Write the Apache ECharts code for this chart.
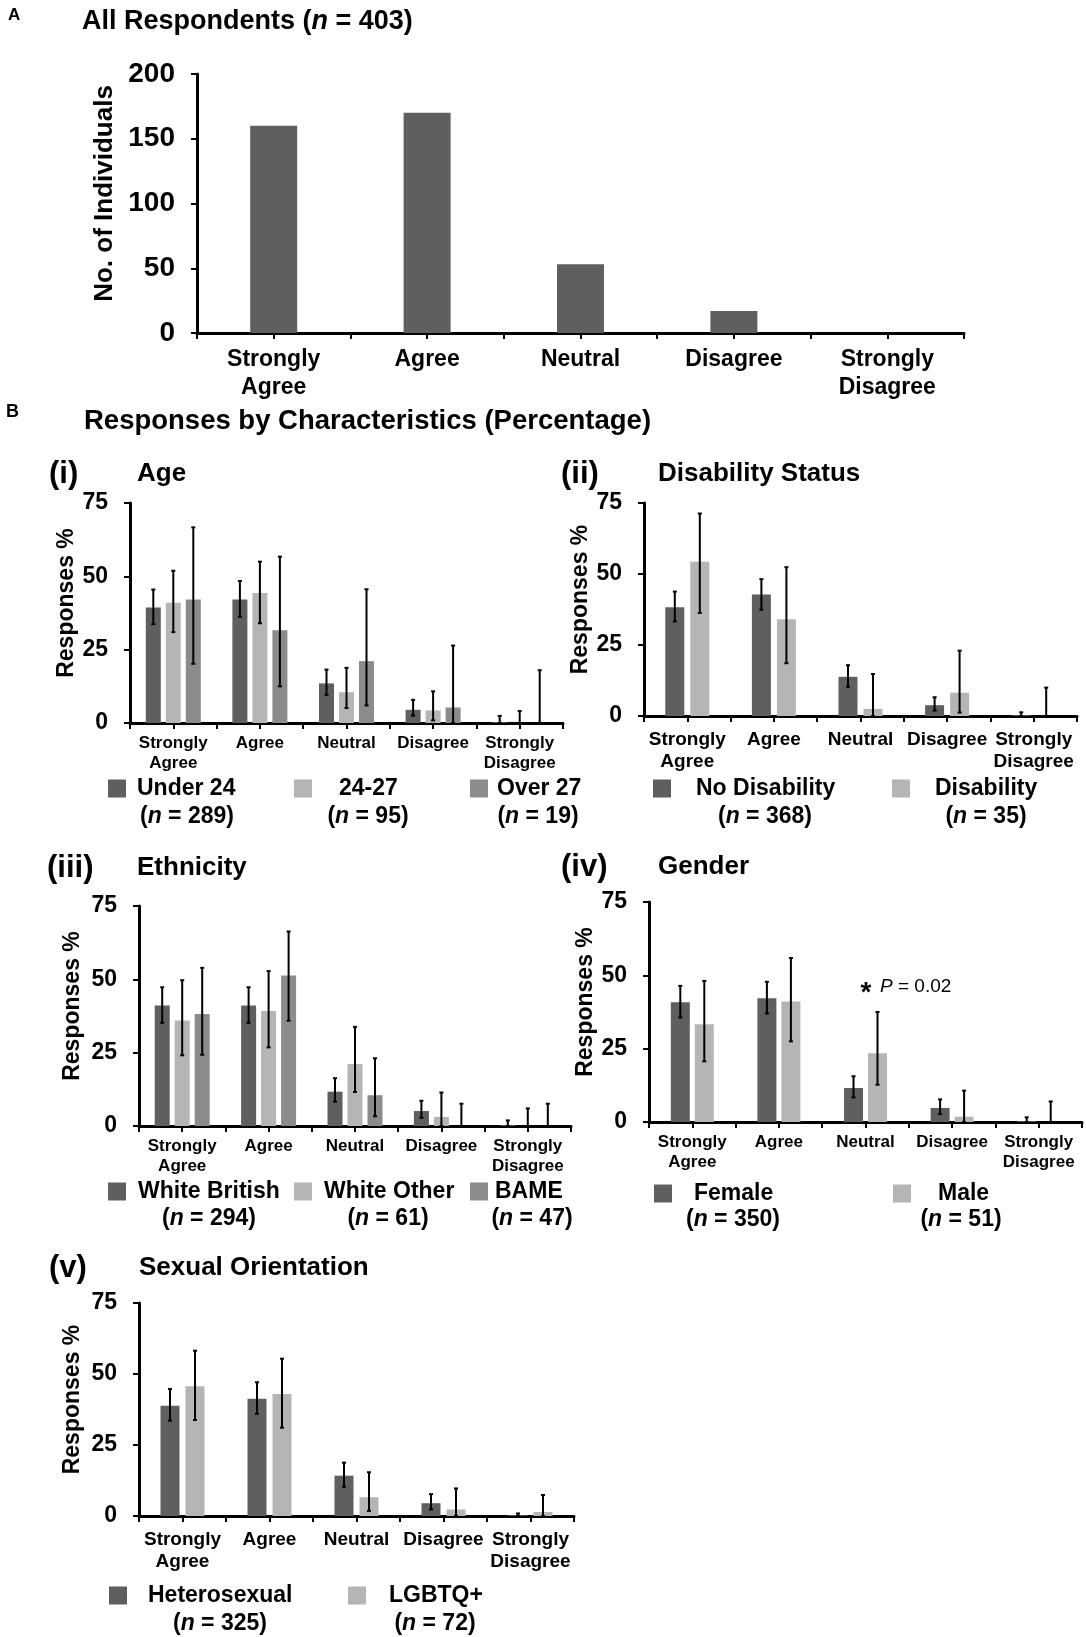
<!DOCTYPE html>
<html><head><meta charset="utf-8">
<script src="https://cdn.jsdelivr.net/npm/echarts@6.0.0/dist/echarts.min.js"></script>
<style>html,body{margin:0;padding:0;background:#fff}#c{width:1086px;height:1637px}</style>
</head><body><div id="c"></div>
<script>
// ---------------- DATA ----------------
const CATEGORIES = ['Strongly\nAgree', 'Agree', 'Neutral', 'Disagree', 'Strongly\nDisagree'];
const Y_TICKS_A = [0, 50, 100, 150, 200];
const Y_TICKS_B = [0, 25, 50, 75];

const allRespondents = [160, 170, 53, 17, 0];

const ageGroups = ['Under 24', '24-27', 'Over 27'];
const ageN = [289, 95, 19];
const under24 = [39.4, 42.1, 13.5, 4.5, 0.3];
const under24Err = [[33.7, 45.5], [36.2, 48.4], [9.6, 18.2], [2.5, 7.9], [0, 2.4]];
const age24to27 = [41.0, 44.3, 10.5, 4.3, 0];
const age24to27Err = [[31.0, 51.9], [34.0, 55.0], [5.1, 18.8], [0.9, 10.8], [0, 4.1]];
const over27 = [42.1, 31.6, 21.1, 5.3, 0];
const over27Err = [[20.2, 66.7], [12.5, 56.7], [6.0, 45.6], [0, 26.4], [0, 18.0]];

const disabilityGroups = ['No Disability', 'Disability'];
const disabilityN = [368, 35];
const noDisability = [38.3, 42.8, 13.8, 3.8, 0.3];
const noDisabilityErr = [[33.3, 43.8], [37.4, 48.2], [10.3, 17.9], [1.9, 6.6], [0, 1.3]];
const disability = [54.3, 34.1, 2.5, 8.2, 0];
const disabilityErr = [[36.3, 71.3], [18.6, 52.4], [0, 14.8], [1.2, 23.0], [0, 10.0]];

const ethnicityGroups = ['White British', 'White Other', 'BAME'];
const ethnicityN = [294, 61, 47];
const whiteBritish = [41.1, 41.1, 11.7, 5.1, 0.3];
const whiteBritishErr = [[35.2, 47.3], [35.2, 47.3], [8.3, 16.3], [2.8, 8.6], [0, 1.9]];
const whiteOther = [36.0, 39.2, 21.1, 3.1, 0];
const whiteOtherErr = [[24.1, 49.7], [26.8, 52.8], [11.6, 33.8], [0, 11.4], [0, 6.0]];
const bame = [38.2, 51.3, 10.5, 0, 0];
const bameErr = [[24.3, 53.9], [35.9, 66.3], [3.3, 23.1], [0, 7.6], [0, 7.6]];

const genderGroups = ['Female', 'Male'];
const genderN = [350, 51];
const female = [40.8, 42.2, 11.6, 4.8, 0.3];
const femaleErr = [[35.6, 46.4], [37.0, 47.8], [8.4, 15.6], [2.7, 7.7], [0, 1.6]];
const male = [33.3, 41.1, 23.4, 1.8, 0];
const maleErr = [[20.7, 48.1], [27.5, 55.9], [12.7, 37.5], [0, 10.7], [0, 7.0]];

const orientationGroups = ['Heterosexual', 'LGBTQ+'];
const orientationN = [325, 72];
const heterosexual = [38.8, 41.3, 14.2, 4.5, 0.3];
const heterosexualErr = [[33.6, 44.7], [36.0, 47.1], [10.3, 18.8], [2.3, 7.7], [0, 0.9]];
const lgbtq = [45.7, 43.0, 6.6, 2.3, 1.4];
const lgbtqErr = [[33.8, 58.2], [31.1, 55.4], [1.8, 15.4], [0, 9.7], [0, 7.4]];

const genderPValue = 'P = 0.02';

// ---------------- STYLE / LAYOUT ----------------
const FONT = '"Liberation Sans", Arial, Helvetica, sans-serif';
const DARK = '#5f5f5f', LIGHT = '#b5b5b5', MID = '#8b8b8b';
const TICK_SLOTS = ['', '', '', '', '', '', '', '', '', ''];

const PANELS = [
  { tag: '(i)', title: 'Age', tagX: 49, titleX: 137, headY: 474,
    grid: { left: 130, top: 503, width: 433, height: 220 }, labelSize: 17, labelLH: 20, labelMargin: 10, nameGap: 43,
    barWidth: 15, gap: 5,
    series: [
      { name: ageGroups[0], values: under24, err: under24Err, color: DARK },
      { name: ageGroups[1], values: age24to27, err: age24to27Err, color: LIGHT },
      { name: ageGroups[2], values: over27, err: over27Err, color: MID }],
    nVals: ageN, icons: [108, 294, 470], legendTop: 783, pads: [6, 22, 4], nCenters: [187, 368, 538], nY: 817 },
  { tag: '(ii)', title: 'Disability Status', tagX: 561, titleX: 658, headY: 474,
    grid: { left: 644, top: 503, width: 433, height: 213 }, labelSize: 19, labelLH: 22, labelMargin: 13, nameGap: 41,
    barWidth: 19, gap: 6,
    series: [
      { name: disabilityGroups[0], values: noDisability, err: noDisabilityErr, color: DARK },
      { name: disabilityGroups[1], values: disability, err: disabilityErr, color: LIGHT }],
    nVals: disabilityN, icons: [653, 892], legendTop: 783, pads: [20, 20], nCenters: [765, 986], nY: 817 },
  { tag: '(iii)', title: 'Ethnicity', tagX: 47, titleX: 137, headY: 868,
    grid: { left: 139, top: 906, width: 432, height: 220 }, labelSize: 17, labelLH: 20, labelMargin: 10, nameGap: 55,
    barWidth: 15, gap: 5,
    series: [
      { name: ethnicityGroups[0], values: whiteBritish, err: whiteBritishErr, color: DARK },
      { name: ethnicityGroups[1], values: whiteOther, err: whiteOtherErr, color: LIGHT },
      { name: ethnicityGroups[2], values: bame, err: bameErr, color: MID }],
    nVals: ethnicityN, icons: [108, 294, 470], legendTop: 1186, pads: [7, 7, 2], nCenters: [209, 388, 532], nY: 1219 },
  { tag: '(iv)', title: 'Gender', tagX: 561, titleX: 658, headY: 867,
    grid: { left: 649, top: 902, width: 433, height: 220 }, labelSize: 17, labelLH: 20, labelMargin: 10, nameGap: 43,
    barWidth: 19, gap: 5,
    series: [
      { name: genderGroups[0], values: female, err: femaleErr, color: DARK },
      { name: genderGroups[1], values: male, err: maleErr, color: LIGHT }],
    nVals: genderN, icons: [654, 893], legendTop: 1188, pads: [17, 22], nCenters: [733, 961], nY: 1220 },
  { tag: '(v)', title: 'Sexual Orientation', tagX: 49, titleX: 139, headY: 1268,
    grid: { left: 139, top: 1303, width: 435, height: 213 }, labelSize: 19, labelLH: 22, labelMargin: 13, nameGap: 55,
    barWidth: 19, gap: 6,
    series: [
      { name: orientationGroups[0], values: heterosexual, err: heterosexualErr, color: DARK },
      { name: orientationGroups[1], values: lgbtq, err: lgbtqErr, color: LIGHT }],
    nVals: orientationN, icons: [109, 348], legendTop: 1590, pads: [16, 18], nCenters: [220, 435], nY: 1624 }
];

const boldTxt = (size) => ({ color: '#000', fontWeight: 'bold', fontSize: size, fontFamily: FONT });

const grids = [], xAxes = [], yAxes = [], series = [], legends = [], graphics = [];

function addAxes(gi, grid, yMax, yInterval, yLabelSize, yLabelMargin, yName, nameSize, nameGap, catSize, catLH, catMargin) {
  grids.push(Object.assign({ containLabel: false, outerBoundsMode: 'none' }, grid));
  const mainX = xAxes.length;
  xAxes.push({
    type: 'category', gridIndex: gi, data: CATEGORIES, position: 'bottom',
    axisLine: { show: true, onZero: true, lineStyle: { color: '#000', width: 3 } },
    axisTick: { show: false },
    axisLabel: Object.assign({ interval: 0, margin: catMargin, lineHeight: catLH, align: 'center' }, boldTxt(catSize)),
    splitLine: { show: false }
  });
  xAxes.push({
    type: 'category', gridIndex: gi, data: TICK_SLOTS, position: 'bottom', boundaryGap: true,
    axisLine: { show: false }, axisLabel: { show: false },
    axisTick: { show: true, interval: 0, length: 6, lineStyle: { color: '#000', width: 2 } },
    splitLine: { show: false }
  });
  yAxes.push({
    type: 'value', gridIndex: gi, min: 0, max: yMax, interval: yInterval,
    axisLine: { show: true, lineStyle: { color: '#000', width: 3 } },
    axisTick: { show: true, length: 6, lineStyle: { color: '#000', width: 2 } },
    splitLine: { show: false },
    axisLabel: Object.assign({ margin: yLabelMargin }, boldTxt(yLabelSize)),
    name: yName, nameLocation: 'middle', nameRotate: 90, nameGap: nameGap,
    nameTextStyle: Object.assign({ padding: [0, 0, 0, 20] }, boldTxt(nameSize))
  });
  return mainX;
}

function errRender(offset) {
  return function (params, api) {
    const ci = api.value(0);
    const p1 = api.coord([ci, api.value(1)]);
    const p2 = api.coord([ci, api.value(2)]);
    const x = p1[0] + offset;
    const st = { stroke: '#000', lineWidth: 2 };
    return { type: 'group', children: [
      { type: 'line', shape: { x1: x, y1: p1[1], x2: x, y2: p2[1] }, style: st },
      { type: 'line', shape: { x1: x - 2, y1: p2[1], x2: x + 2, y2: p2[1] }, style: st },
      { type: 'line', shape: { x1: x - 2, y1: p1[1], x2: x + 2, y2: p1[1] }, style: st }
    ] };
  };
}

// ---- Panel A ----
{
  const xi = addAxes(0, { left: 197, top: 74, width: 767, height: 259 },
    Y_TICKS_A[Y_TICKS_A.length - 1], Y_TICKS_A[1] - Y_TICKS_A[0], 28, 22, 'No. of Individuals', 26, 72, 23, 28, 13);
  series.push({ type: 'bar', name: 'All Respondents', xAxisIndex: xi, yAxisIndex: 0, data: allRespondents,
    barWidth: 47, itemStyle: { color: DARK }, silent: true });
}

// ---- Panels B ----
PANELS.forEach((p, k) => {
  const gi = k + 1;
  const xi = addAxes(gi, p.grid, Y_TICKS_B[Y_TICKS_B.length - 1], Y_TICKS_B[1] - Y_TICKS_B[0], 23, 22,
    'Responses %', 23, p.nameGap, p.labelSize, p.labelLH, p.labelMargin);
  const n = p.series.length;
  p.series.forEach((s, j) => {
    series.push({ type: 'bar', name: s.name, xAxisIndex: xi, yAxisIndex: gi, data: s.values,
      barWidth: p.barWidth, barGap: (p.gap / p.barWidth * 100).toFixed(1) + '%',
      itemStyle: { color: s.color }, silent: true, z: 2 });
  });
  p.series.forEach((s, j) => {
    const off = (j - (n - 1) / 2) * (p.barWidth + p.gap);
    series.push({ type: 'custom', name: s.name + ' error', xAxisIndex: xi, yAxisIndex: gi,
      data: s.err.map((e, i) => [i, e[0], e[1]]), encode: { x: 0, y: [1, 2] },
      renderItem: errRender(off), silent: true, z: 5 });
    legends.push({ data: [{ name: s.name, icon: 'rect' }], left: p.icons[j], top: p.legendTop - 6,
      itemWidth: 18, itemHeight: 18, itemGap: 0, padding: 0, selectedMode: false,
      textStyle: Object.assign({ padding: [0, 0, 6, p.pads[j]] }, boldTxt(23)) });
    graphics.push({ type: 'text', x: p.nCenters[j], y: p.nY, style: {
      text: '{a|(}{b|n}{a| = ' + p.nVals[j] + ')}', align: 'center', verticalAlign: 'middle',
      rich: { a: { fontSize: 23, fontWeight: 'bold', fontFamily: FONT, fill: '#000' },
              b: { fontSize: 23, fontWeight: 'bold', fontStyle: 'italic', fontFamily: FONT, fill: '#000' } } } });
  });
  graphics.push({ type: 'text', x: p.tagX, y: p.headY, style: { text: p.tag, font: 'bold 31px ' + FONT, fill: '#000', verticalAlign: 'middle' } });
  graphics.push({ type: 'text', x: p.titleX, y: p.headY, style: { text: p.title, font: 'bold 26px ' + FONT, fill: '#000', verticalAlign: 'middle' } });
});

// headings
graphics.push({ type: 'text', x: 8, y: 15, style: { text: 'A', font: 'bold 17px ' + FONT, fill: '#000', verticalAlign: 'middle' } });
graphics.push({ type: 'text', x: 82, y: 22, style: {
  text: '{a|All Respondents (}{b|n}{a| = 403)}', verticalAlign: 'middle',
  rich: { a: { fontSize: 27, fontWeight: 'bold', fontFamily: FONT, fill: '#000' },
          b: { fontSize: 27, fontWeight: 'bold', fontStyle: 'italic', fontFamily: FONT, fill: '#000' } } } });
graphics.push({ type: 'text', x: 6, y: 412, style: { text: 'B', font: 'bold 18px ' + FONT, fill: '#000', verticalAlign: 'middle' } });
graphics.push({ type: 'text', x: 84, y: 421, style: { text: 'Responses by Characteristics (Percentage)', font: 'bold 27.5px ' + FONT, fill: '#000', verticalAlign: 'middle' } });
// significance annotation (gender, neutral)
graphics.push({ type: 'text', x: 866, y: 993, style: { text: '*', font: 'bold 28px ' + FONT, fill: '#000', align: 'center', verticalAlign: 'middle' } });
graphics.push({ type: 'text', x: 880, y: 987, style: {
  text: '{i|P}{r|' + genderPValue.slice(1) + '}', verticalAlign: 'middle',
  rich: { i: { fontSize: 19, fontStyle: 'italic', fontFamily: FONT, fill: '#000' },
          r: { fontSize: 19, fontFamily: FONT, fill: '#000' } } } });

const chart = echarts.init(document.getElementById('c'), null, { renderer: 'canvas' });
chart.setOption({
  backgroundColor: '#fff',
  animation: false,
  grid: grids, xAxis: xAxes, yAxis: yAxes, series: series, legend: legends, graphic: graphics
});
</script></body></html>
